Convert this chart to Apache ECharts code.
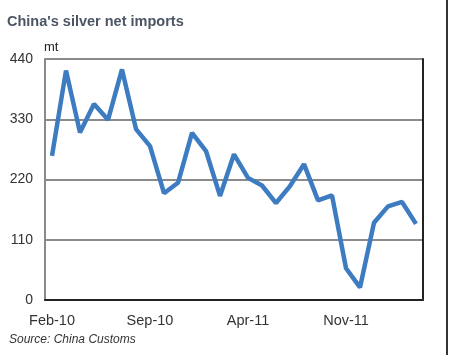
<!DOCTYPE html>
<html>
<head>
<meta charset="utf-8">
<script src="https://cdn.jsdelivr.net/npm/echarts@6/dist/echarts.min.js"></script>
<style>
html,body{margin:0;padding:0;background:#fff;}
#c{width:450px;height:355px;}
</style>
</head>
<body>
<div id="c"></div>
<script>
const months = ['Feb-10','Mar-10','Apr-10','May-10','Jun-10','Jul-10','Aug-10','Sep-10','Oct-10','Nov-10','Dec-10','Jan-11','Feb-11','Mar-11','Apr-11','May-11','Jun-11','Jul-11','Aug-11','Sep-11','Oct-11','Nov-11','Dec-11','Jan-12','Feb-12','Mar-12','Apr-12'];
const imports = [263,419,306,358,329,421,312,281,195,214,305,272,190,266,223,209,177,208,248,182,191,58,23,141,171,179,139];
const yTicks = [0,110,220,330,440];

const chart = echarts.init(document.getElementById('c'));
chart.setOption({
  animation: false,
  backgroundColor: '#fff',
  title: {
    text: "China's silver net imports",
    left: 2, top: 9,
    textStyle: {fontFamily: 'Liberation Sans', fontWeight: 'bold', fontSize: 14.5, color: '#4b5563'}
  },
  graphic: [
    {type: 'text', left: 44, top: 41, style: {text: 'mt', font: '13px "Liberation Sans"', fill: '#222'}},
    {type: 'text', left: 9, top: 334, style: {text: 'Source: China Customs', font: 'italic 12px "Liberation Sans"', fill: '#333'}},
    {type: 'line', shape: {x1: 447, y1: 0, x2: 447, y2: 355}, style: {stroke: '#333', lineWidth: 2}}
  ],
  grid: {left: 45, right: 27, top: 59, bottom: 55},
  xAxis: [{
    type: 'category',
    data: months,
    boundaryGap: true,
    axisLine: {show: true, lineStyle: {color: '#8a8a8a', width: 2}},
    axisTick: {show: false},
    axisLabel: {
      interval: 6, margin: 13,
      fontFamily: 'Liberation Sans', fontSize: 14.5, color: '#333'
    },
    splitLine: {show: false}
  }, {
    type: 'category',
    data: months,
    position: 'top',
    axisLine: {show: true, lineStyle: {color: '#222', width: 2}},
    axisTick: {show: false},
    axisLabel: {show: false}
  }],
  yAxis: [{
    type: 'value',
    min: yTicks[0], max: yTicks[yTicks.length - 1], interval: 110,
    axisLine: {show: true, lineStyle: {color: '#8a8a8a', width: 2}},
    axisTick: {show: false},
    axisLabel: {margin: 12, fontFamily: 'Liberation Sans', fontSize: 14, color: '#333'},
    splitLine: {show: true, lineStyle: {color: '#8a8a8a', width: 2}}
  }, {
    type: 'value',
    position: 'right',
    min: yTicks[0], max: yTicks[yTicks.length - 1], interval: 110,
    axisLine: {show: true, lineStyle: {color: '#222', width: 2}},
    axisTick: {show: false},
    axisLabel: {show: false},
    splitLine: {show: false}
  }],
  series: [{
    type: 'line',
    data: imports,
    symbol: 'none',
    lineStyle: {color: '#3e7cc2', width: 4.5},
    itemStyle: {color: '#3e7cc2'}
  }]
});
</script>
</body>
</html>
